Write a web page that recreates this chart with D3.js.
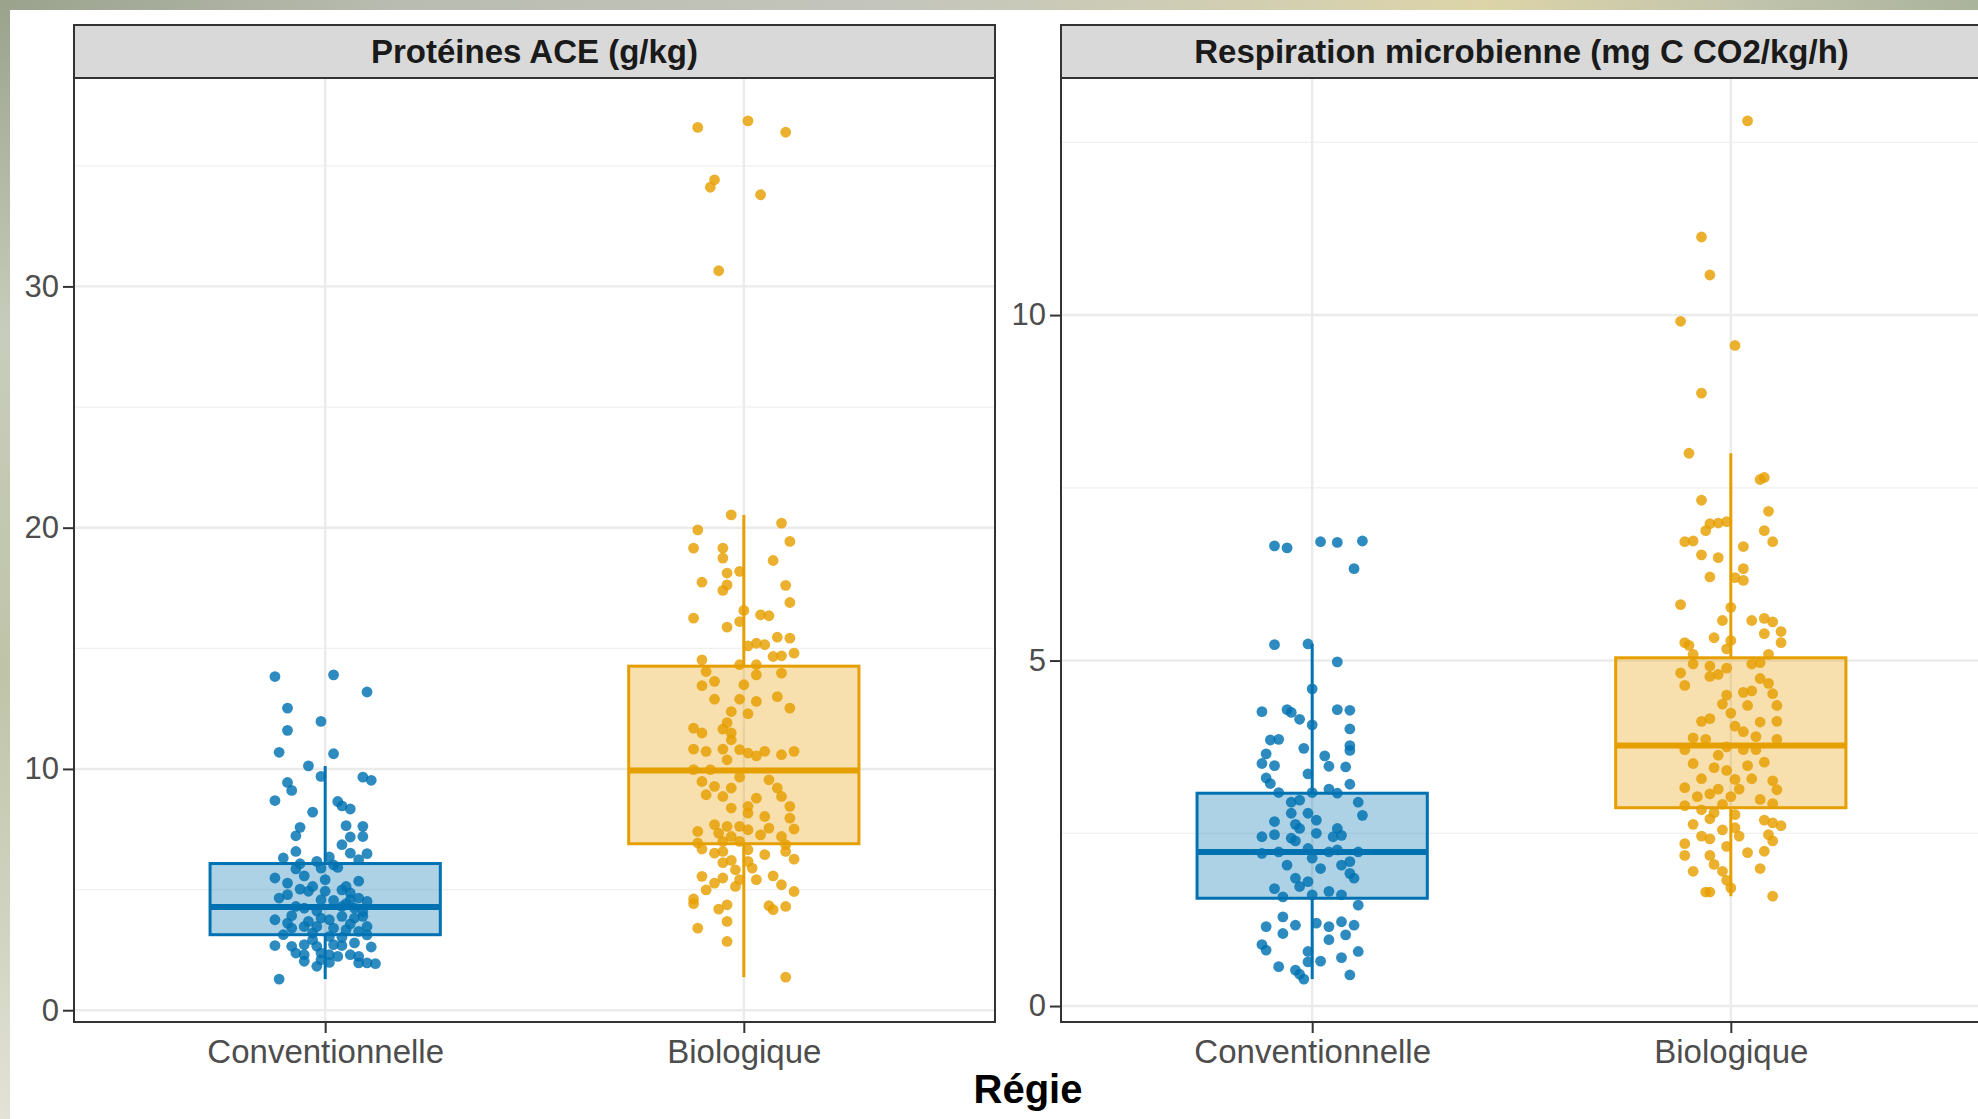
<!DOCTYPE html>
<html>
<head>
<meta charset="utf-8">
<script src="https://cdn.jsdelivr.net/npm/d3@7"></script>
<style>
html,body{margin:0;padding:0;background:#fff;overflow:hidden;}
svg{display:block;font-family:"Liberation Sans",Arial,Helvetica,sans-serif;}
</style>
</head>
<body>
<svg id="chart" width="1978" height="1119"></svg>
<script>
// ---------- data ----------
const categories = ["Conventionnelle", "Biologique"];
const panelTitles = ["Protéines ACE (g/kg)", "Respiration microbienne (mg C CO2/kg/h)"];
const xAxisTitle = "Régie";
const proteinTicks = [0, 10, 20, 30];
const respirationTicks = [0, 5, 10];

// box statistics: [lower whisker, Q1, median, Q3, upper whisker]
const proteinConvBox = [1.29, 3.13, 4.28, 6.08, 10.12];
const proteinBioBox = [1.37, 6.90, 9.94, 14.26, 20.53];
const respConvBox = [0.39, 1.56, 2.23, 3.08, 5.24];
const respBioBox = [1.59, 2.87, 3.77, 5.04, 8.00];

// observations: [horizontal jitter (category units), value]
const proteinConv = [[-0.12,13.83],[0.02,13.90],[0.10,13.19],[-0.09,12.52],[-0.01,11.97],[-0.09,11.60],[-0.11,10.69],[0.02,10.63],[-0.04,10.13],[-0.01,9.69],[0.09,9.66],[0.11,9.53],[-0.09,9.44],[-0.08,9.11],[-0.12,8.69],[0.03,8.65],[0.04,8.47],[0.06,8.34],[-0.03,8.21],[-0.06,7.58],[0.05,7.65],[0.09,7.62],[-0.07,7.23],[0.06,7.18],[0.09,7.20],[0.04,6.86],[-0.07,6.58],[0.06,6.51],[0.10,6.49],[-0.10,6.31],[0.01,6.35],[0.08,6.24],[-0.02,6.17],[-0.06,6.07],[-0.01,5.89],
[-0.12,5.48],[-0.09,5.27],[-0.05,5.57],[0.00,5.41],[-0.03,5.13],[-0.04,4.93],[0.05,5.13],[0.08,5.35],[0.04,4.99],[0.06,4.86],[-0.09,4.79],[-0.11,4.65],[0.00,4.93],[-0.01,4.58],[0.02,4.55],[0.06,4.58],[0.08,4.65],[0.10,4.51],[-0.07,4.30],[-0.05,4.23],[0.04,4.30],[0.07,4.23],[-0.12,3.75],[-0.09,3.61],[-0.04,3.68],[-0.01,3.82],[0.01,3.75],[0.04,3.89],[0.07,3.82],[0.09,3.89],[0.10,3.47],[-0.08,3.40],[-0.05,3.47],[-0.02,3.47],[0.02,3.40],[0.05,3.34],[0.08,3.27],[-0.10,3.13],[-0.03,3.20],[0.01,3.06],
[-0.12,2.68],[-0.08,2.65],[-0.05,2.72],[-0.02,2.65],[0.02,2.72],[0.04,2.68],[0.07,2.79],[0.11,2.62],[-0.07,2.37],[-0.05,2.30],[-0.01,2.37],[0.01,2.30],[0.03,2.23],[0.06,2.30],[0.08,2.23],[-0.05,2.03],[-0.01,2.09],[0.01,1.98],[0.08,1.96],[0.10,1.96],[0.12,1.93],[-0.02,1.82],[-0.11,1.29],
[0.03,5.92],[-0.06,5.02],[0.05,4.42],[-0.02,4.12],[0.09,4.08],[-0.08,3.92],[0.06,3.58],[-0.03,2.92],[0.04,3.02],[0.10,3.12],[-0.07,5.86],[0.02,6.02]];

const proteinBio = [[-0.11,36.59],[0.01,36.86],[0.10,36.39],[-0.07,34.42],[-0.08,34.11],[0.04,33.80],[-0.06,30.65],[-0.03,20.53],[-0.11,19.91],[0.09,20.19],[0.11,19.43],[-0.12,19.15],[-0.05,19.15],
[-0.05,18.74],[0.07,18.64],[-0.04,18.12],[-0.01,18.19],[-0.10,17.74],[-0.04,17.63],[-0.05,17.40],[0.10,17.61],[0.11,16.90],[-0.12,16.25],[-0.04,15.88],[-0.01,16.11],[0.00,16.57],[0.04,16.39],[0.06,16.35],[0.01,15.10],[0.03,15.21],[0.05,15.15],[0.08,15.46],[0.11,15.42],[0.07,14.66],[0.09,14.69],[0.12,14.80],[-0.10,14.52],[-0.01,14.32],[0.03,14.32],[-0.09,14.04],[0.09,13.97],[-0.10,13.45],[-0.07,13.63],[0.00,13.49],[0.03,13.90],[-0.07,12.89],[-0.01,12.89],[0.03,12.80],[0.08,13.00],[0.11,12.52],[0.01,12.29],[-0.03,12.38],[-0.04,11.92],[-0.12,11.69],[-0.05,11.65],[-0.03,11.49],[-0.10,11.49],[-0.03,11.21],[-0.12,10.82],[-0.09,10.73],[-0.05,10.82],[-0.01,10.80],[0.01,10.66],[0.05,10.73],[0.09,10.59],[0.12,10.73],[-0.04,10.38],[0.03,10.54],[-0.08,9.97],[-0.12,9.97],[-0.01,9.66],[-0.10,9.48],[-0.07,9.28],[-0.03,9.21],[0.06,9.55],[0.08,9.21],[-0.09,8.93],[-0.05,8.86],[0.03,8.79],[0.09,8.86],[0.11,8.45],[-0.03,8.38],[0.01,8.45],[0.01,8.17],[0.05,8.03],[0.11,7.96],[-0.07,7.69],[-0.04,7.62],[-0.01,7.62],[-0.11,7.41],[0.01,7.48],[0.06,7.55],[0.12,7.51],[-0.06,7.34],[-0.03,7.20],[0.04,7.27],[0.09,7.20],[-0.11,6.93],[-0.05,7.00],[-0.01,7.00],[0.10,6.86],[-0.10,6.68],[-0.07,6.51],[-0.05,6.58],[0.01,6.65],[0.05,6.45],[0.10,6.58],[0.12,6.26],[-0.05,6.12],[-0.03,6.21],[0.01,6.17],[0.02,5.89],[-0.02,5.82],[-0.10,5.55],[-0.05,5.48],[-0.01,5.41],[0.03,5.41],[0.07,5.57],[-0.07,5.27],[-0.02,5.13],[0.09,5.20],[-0.09,4.99],[0.12,4.92],[-0.12,4.61],[-0.12,4.42],[-0.04,4.37],[-0.06,4.19],[0.06,4.33],[0.07,4.17],[0.10,4.30],[-0.04,3.68],[-0.11,3.40],[-0.04,2.85],[0.10,1.37]];

const respConv = [[-0.09,6.66],[-0.06,6.63],[0.02,6.72],[0.06,6.71],[0.12,6.73],[0.10,6.33],[-0.09,5.23],[-0.01,5.24],[0.06,4.98],[0.00,4.59],[-0.12,4.26],[-0.06,4.29],[-0.05,4.25],[-0.03,4.15],[0.06,4.29],[0.09,4.28],[0.00,4.07],[0.09,4.01],[-0.10,3.85],[-0.08,3.86],[-0.02,3.73],[0.09,3.77],[0.09,3.70],[-0.11,3.65],[-0.12,3.51],[-0.09,3.48],[0.03,3.62],[0.04,3.47],[0.08,3.46],[-0.01,3.36],[-0.11,3.30],[-0.10,3.22],[0.09,3.21],[-0.08,3.09],[0.00,3.09],[0.04,3.14],[0.06,3.08],[-0.05,2.95],[-0.03,2.98],[0.11,2.95],[0.12,2.76],[-0.05,2.79],[-0.01,2.79],[-0.09,2.67],[-0.04,2.63],[0.01,2.69],[-0.03,2.57],[0.06,2.57],[-0.12,2.45],[-0.09,2.48],[-0.05,2.43],[0.01,2.50],[0.05,2.45],[0.07,2.47],[-0.04,2.39],[-0.12,2.21],[-0.08,2.23],[-0.01,2.28],[0.04,2.23],[0.06,2.26],[0.11,2.23],[-0.06,2.04],[0.00,2.14],[0.02,1.99],[0.07,2.04],[0.09,2.09],[-0.04,1.85],[-0.01,1.80],[0.09,1.92],[0.10,1.85],[-0.09,1.70],[-0.03,1.73],[0.00,1.61],[0.04,1.66],[0.07,1.61],[-0.07,1.58],[0.11,1.46],[-0.07,1.29],[-0.04,1.17],[0.01,1.20],[0.04,1.15],[0.07,1.22],[0.10,1.17],[-0.11,1.15],[-0.07,1.05],[0.04,0.96],[0.08,1.03],[-0.12,0.89],[-0.11,0.81],[-0.01,0.79],[0.02,0.65],[-0.01,0.64],[0.07,0.70],[0.11,0.79],[-0.08,0.57],[-0.04,0.52],[-0.03,0.46],[-0.02,0.39],[0.09,0.45]];

const respBio = [[0.04,12.81],[-0.07,11.13],[-0.05,10.58],[-0.12,9.91],[0.01,9.56],[-0.07,8.87],[-0.10,8.00],[0.07,7.62],[0.08,7.65],[-0.07,7.32],[0.09,7.16],[-0.06,6.88],[-0.05,6.98],[-0.03,6.99],[-0.01,7.01],[0.08,6.88],[-0.11,6.72],[-0.09,6.73],[0.10,6.72],[0.03,6.65],[-0.07,6.53],[-0.03,6.49],[0.03,6.33],[-0.05,6.21],[0.01,6.20],[0.03,6.16],[-0.12,5.81],[0.00,5.77],[-0.02,5.58],[0.05,5.58],[0.08,5.61],[0.10,5.56],[0.12,5.42],[0.08,5.39],[-0.04,5.33],[0.00,5.29],[-0.11,5.26],[-0.10,5.22],[0.12,5.26],[-0.09,5.09],[-0.01,5.17],[0.09,5.09],[-0.09,4.95],[-0.05,4.92],[-0.01,4.89],[0.05,4.95],[0.07,4.97],[-0.12,4.82],[-0.05,4.77],[-0.03,4.80],[0.07,4.74],[-0.11,4.64],[0.09,4.67],[-0.01,4.50],[0.03,4.54],[0.05,4.56],[0.10,4.52],[0.11,4.35],[-0.02,4.37],[0.04,4.35],[0.00,4.24],[-0.07,4.12],[-0.05,4.16],[0.07,4.11],[0.11,4.12],[0.01,4.05],[0.03,3.97],[-0.09,3.88],[-0.06,3.86],[0.06,3.90],[0.11,3.86],[-0.01,3.75],[0.03,3.71],[0.06,3.71],[-0.11,3.71],[-0.03,3.63],[0.08,3.53],[-0.09,3.51],[-0.04,3.45],[-0.01,3.41],[0.04,3.48],[-0.07,3.29],[0.01,3.28],[0.05,3.29],[0.10,3.26],[-0.11,3.16],[-0.03,3.14],[0.02,3.14],[0.11,3.13],[-0.08,3.03],[-0.05,3.07],[0.00,3.03],[0.07,2.99],[-0.11,2.90],[-0.02,2.92],[0.10,2.93],[-0.07,2.84],[-0.04,2.80],[0.01,2.77],[-0.05,2.71],[-0.09,2.63],[0.08,2.69],[0.10,2.65],[0.12,2.61],[-0.02,2.55],[0.01,2.58],[-0.07,2.46],[-0.05,2.42],[0.02,2.46],[0.09,2.48],[-0.11,2.35],[0.10,2.39],[-0.01,2.31],[-0.11,2.18],[-0.05,2.18],[0.04,2.22],[0.08,2.24],[-0.04,2.05],[-0.09,1.95],[-0.02,1.95],[0.07,1.99],[-0.01,1.82],[0.00,1.71],[-0.06,1.65],[-0.05,1.65],[0.10,1.59]];

const colors = ["#0072B2", "#E69F00"];

// ---------- layout ----------
const W = 1978, H = 1119;
const svg = d3.select("#chart");

// background slide edges (blurred photo behind the figure)
const defs = svg.append("defs");
const gTop = defs.append("linearGradient").attr("id", "bgTop").attr("x1", 0).attr("x2", 1).attr("y1", 0).attr("y2", 0);
[["0%", "#9aa28c"], ["20%", "#b9bcb0"], ["45%", "#c4c5bc"], ["60%", "#cfcdb4"], ["75%", "#ddd4a8"], ["88%", "#c2c4ac"], ["100%", "#aab39c"]]
  .forEach(([o, c]) => gTop.append("stop").attr("offset", o).attr("stop-color", c));
const gLeft = defs.append("linearGradient").attr("id", "bgLeft").attr("x1", 0).attr("x2", 0).attr("y1", 0).attr("y2", 1);
[["0%", "#9aa28c"], ["30%", "#c8ccbc"], ["60%", "#bfc4a8"], ["85%", "#d3d5c4"], ["100%", "#e2e3d6"]]
  .forEach(([o, c]) => gLeft.append("stop").attr("offset", o).attr("stop-color", c));
svg.append("rect").attr("width", W).attr("height", H).attr("fill", "#ffffff");
svg.append("rect").attr("x", 0).attr("y", 0).attr("width", W).attr("height", 10).attr("fill", "url(#bgTop)");
svg.append("rect").attr("x", 0).attr("y", 0).attr("width", 10).attr("height", H).attr("fill", "url(#bgLeft)");

const panelTop = 78, panelBottom = 1022, stripTop = 25, panelWidth = 921;
const panels = [
  { title: panelTitles[0], ticks: proteinTicks, series: [proteinConv, proteinBio], boxes: [proteinConvBox, proteinBioBox], left: 74 },
  { title: panelTitles[1], ticks: respirationTicks, series: [respConv, respBio], boxes: [respConvBox, respBioBox], left: 1061 }
];

const tickColor = "#333333";
const labelColor = "#4D4D4D";
const gridColor = "#EBEBEB";
const boxWidth = 0.55;

panels.forEach(p => {
  const right = p.left + panelWidth;
  const allVals = p.series.flat().map(d => d[1]);
  const [mn, mx] = d3.extent(allVals);
  const pad = (mx - mn) * 0.05;
  const y = d3.scaleLinear().domain([mn - pad, mx + pad]).range([panelBottom, panelTop]);
  const x = d3.scaleLinear().domain([0.4, categories.length + 0.6]).range([p.left, right]);
  const g = svg.append("g");

  // minor grid
  const step = p.ticks[1] - p.ticks[0];
  const minor = [];
  p.ticks.forEach(t => { minor.push(t + step / 2); });
  minor.push(p.ticks[0] - step / 2);
  const [d0, d1] = y.domain();
  g.selectAll(".minor").data(minor.filter(v => v > d0 && v < d1)).enter().append("line")
    .attr("x1", p.left).attr("x2", right).attr("y1", d => y(d)).attr("y2", d => y(d))
    .attr("stroke", "#F0F0F0").attr("stroke-width", 1.2);
  // major grid
  g.selectAll(".major").data(p.ticks).enter().append("line")
    .attr("x1", p.left).attr("x2", right).attr("y1", d => y(d)).attr("y2", d => y(d))
    .attr("stroke", gridColor).attr("stroke-width", 2.4);
  g.selectAll(".vgrid").data(categories).enter().append("line")
    .attr("x1", (d, i) => x(i + 1)).attr("x2", (d, i) => x(i + 1))
    .attr("y1", panelTop).attr("y2", panelBottom)
    .attr("stroke", gridColor).attr("stroke-width", 2.4);

  // jittered points
  p.series.forEach((pts, i) => {
    g.append("g").selectAll("circle").data(pts).enter().append("circle")
      .attr("cx", d => x(i + 1 + d[0])).attr("cy", d => y(d[1])).attr("r", 5.4)
      .attr("fill", colors[i]).attr("fill-opacity", 0.82);
  });

  // boxplots
  p.boxes.forEach((b, i) => {
    const c = colors[i];
    const cx = x(i + 1);
    const x0 = x(i + 1 - boxWidth / 2), x1 = x(i + 1 + boxWidth / 2);
    g.append("line").attr("x1", cx).attr("x2", cx).attr("y1", y(b[3])).attr("y2", y(b[4]))
      .attr("stroke", c).attr("stroke-width", 3);
    g.append("line").attr("x1", cx).attr("x2", cx).attr("y1", y(b[0])).attr("y2", y(b[1]))
      .attr("stroke", c).attr("stroke-width", 3);
    g.append("rect").attr("x", x0).attr("width", x1 - x0)
      .attr("y", y(b[3])).attr("height", y(b[1]) - y(b[3]))
      .attr("fill", c).attr("fill-opacity", 0.32).attr("stroke", c).attr("stroke-width", 3);
    g.append("line").attr("x1", x0).attr("x2", x1).attr("y1", y(b[2])).attr("y2", y(b[2]))
      .attr("stroke", c).attr("stroke-width", 6);
  });

  // panel border
  g.append("rect").attr("x", p.left).attr("y", panelTop).attr("width", panelWidth).attr("height", panelBottom - panelTop)
    .attr("fill", "none").attr("stroke", tickColor).attr("stroke-width", 2);

  // strip
  g.append("rect").attr("x", p.left).attr("y", stripTop).attr("width", panelWidth).attr("height", panelTop - stripTop)
    .attr("fill", "#D9D9D9").attr("stroke", tickColor).attr("stroke-width", 2);
  g.append("text").attr("x", (p.left + right) / 2).attr("y", (stripTop + panelTop) / 2).attr("dy", "0.36em")
    .attr("text-anchor", "middle").attr("font-size", 33).attr("font-weight", "bold").attr("fill", "#1A1A1A")
    .text(p.title);

  // y axis
  const yAxis = d3.axisLeft(y).tickValues(p.ticks).tickSize(11).tickPadding(4).tickFormat(d3.format("d"));
  const ya = g.append("g").attr("transform", `translate(${p.left},0)`).call(yAxis);
  ya.select(".domain").remove();
  ya.selectAll(".tick line").attr("stroke", tickColor).attr("stroke-width", 2);
  ya.selectAll(".tick text").attr("fill", labelColor).attr("font-size", 31)
    .attr("font-family", "'Liberation Sans', Arial, sans-serif");

  // x axis
  const xAxis = d3.axisBottom(x).tickValues(categories.map((c, i) => i + 1)).tickSize(11).tickPadding(7)
    .tickFormat((d) => categories[d - 1]);
  const xa = g.append("g").attr("transform", `translate(0,${panelBottom})`).call(xAxis);
  xa.select(".domain").remove();
  xa.selectAll(".tick line").attr("stroke", tickColor).attr("stroke-width", 2);
  xa.selectAll(".tick text").attr("fill", labelColor).attr("font-size", 33)
    .attr("font-family", "'Liberation Sans', Arial, sans-serif");
});

svg.append("text").attr("x", 1028).attr("y", 1103).attr("text-anchor", "middle")
  .attr("font-size", 40).attr("font-weight", "bold").attr("fill", "#000").text(xAxisTitle);
</script>
</body>
</html>
